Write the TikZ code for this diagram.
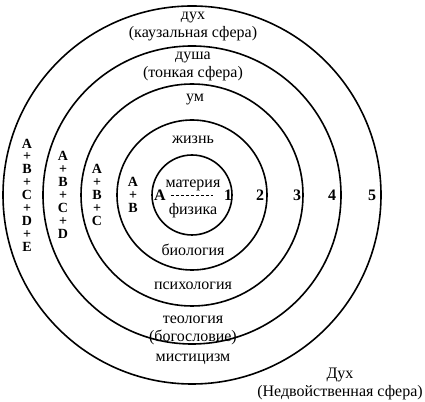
\documentclass[tikz,border=0pt]{standalone}
\usepackage{fontspec}
\setmainfont{Liberation Serif}
\usetikzlibrary{positioning, calc}
\tikzset{
    % Sphere boundaries
    sphere line/.style={draw=black, line width=1.6pt},
    % Sphere names
    sphere label/.style={align=center, inner sep=0pt, font=\fontsize{16}{18}\selectfont},
    % Letter columns
    letter stack/.style={align=center, inner sep=0pt, font=\fontsize{14}{12.9}\selectfont\bfseries},
    % Level marks
    level mark/.style={inner sep=0pt, font=\fontsize{16}{16}\selectfont\bfseries},
    % Dashed divider
    divider/.style={dash pattern=on 3pt off 2pt, line width=0.8pt}
}

\begin{document}
\begin{tikzpicture}[x=1pt, y=1pt]
    \useasboundingbox (0,0) rectangle (425,401);

    % Center of all spheres
    \coordinate (O) at (192,206);

    % Concentric spheres
    \foreach \r in {40,75,111,149,189}
        \draw[sphere line] (O) circle[radius=\r pt];

    % Sphere names
    \node[sphere label] (spirit) at (193,374) {дух\\(каузальная сфера)};
    \node[sphere label] (soul) at (193,334.5) {душа\\(тонкая сфера)};
    \node[sphere label] (mind) at (195,301) {ум};
    \node[sphere label] (life) at (193,261) {жизнь};
    \node[sphere label] (matter) at (193,216) {материя};
    \node[sphere label] (physics) at (193,190) {физика};
    \node[sphere label] (biology) at (193,151) {биология};
    \node[sphere label] (psychology) at (193,115) {психология};
    \node[sphere label] (theology) at (193,71) {теология\\(богословие)};
    \node[sphere label] (mysticism) at (193,42) {мистицизм};
    \node[sphere label] (nondual) at (340,17) {Дух\\(Недвойственная сфера)};

    % Level marks
    \node[level mark] (lvlA) at (160,206) {A};
    \foreach \n/\x in {1/228, 2/260, 3/297, 4/332, 5/372}
        \node[level mark] (lvl\n) at (\x,206) {\n};

    % Divider between matter and physics
    \draw[divider, shorten <=5pt, shorten >=11pt] (lvlA.east) -- (lvl1.west);

    % Letter columns
    \node[letter stack] (stackB) at (133,206) {A\\+\\B};
    \node[letter stack] (stackC) at (97,206) {A\\+\\B\\+\\C};
    \node[letter stack] (stackD) at (63,206) {A\\+\\B\\+\\C\\+\\D};
    \node[letter stack] (stackE) at (27,206) {A\\+\\B\\+\\C\\+\\D\\+\\E};

\end{tikzpicture}
\end{document}
